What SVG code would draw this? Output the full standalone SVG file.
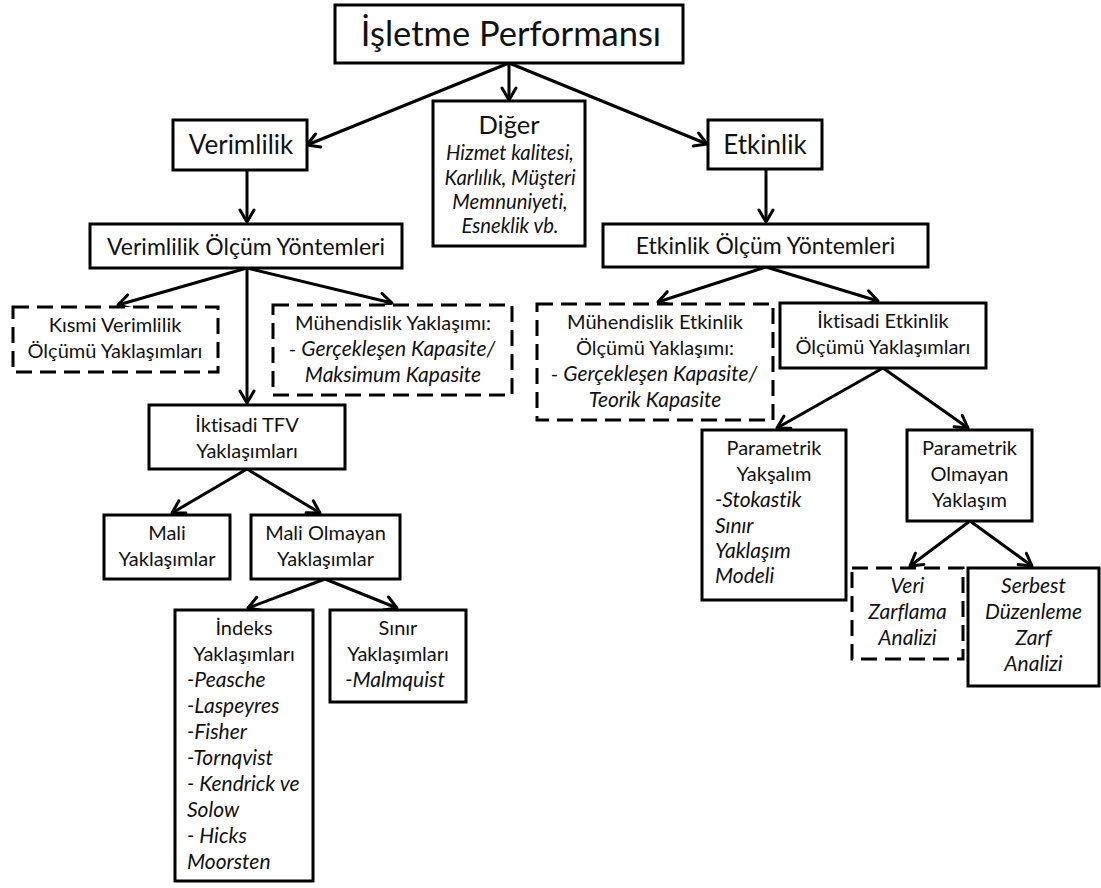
<svg xmlns="http://www.w3.org/2000/svg" width="1101" height="888" viewBox="0 0 1101 888">
  <style>
    .box { fill: #ffffff; stroke: #000000; stroke-width: 3; }
    .dash { fill: #ffffff; stroke: #000000; stroke-width: 3; stroke-dasharray: 16 8; }
    text { font-family: Lato, "Open Sans", "DejaVu Sans", sans-serif; fill: #111111; text-anchor: middle; font-variant-ligatures: none; }
    .t34 { font-size: 34.5px; }
    .t26 { font-size: 26px; }
    .t25 { font-size: 25.5px; }
    .t23 { font-size: 23px; }
    .t20 { font-size: 20px; }
    .i21 { font-size: 21px; font-style: italic; }
    .i20 { font-size: 20.3px; font-style: italic; }
    .left { text-anchor: start; }
    .link { fill: none; stroke: #000000; stroke-width: 3; marker-end: url(#head); }
  </style>
  <defs>
    <marker id="head" markerUnits="userSpaceOnUse" markerWidth="18" markerHeight="18" viewBox="-15 -9 18 18" refX="0" refY="0" orient="auto">
      <path d="M-12,-7 L0,0 L-12,7" fill="none" stroke="#000000" stroke-width="3" stroke-linejoin="round" stroke-linecap="round"/>
    </marker>
  </defs>
  <rect width="1101" height="888" fill="#ffffff"/>

  <g id="connectors">
    <line class="link" x1="509" y1="63" x2="307" y2="145"/>
    <line class="link" x1="509" y1="63" x2="509" y2="100"/>
    <line class="link" x1="509" y1="63" x2="707" y2="144"/>
    <line class="link" x1="247" y1="170" x2="247" y2="222"/>
    <line class="link" x1="766" y1="169" x2="766" y2="222"/>
    <line class="link" x1="247" y1="268" x2="118" y2="305"/>
    <line class="link" x1="247" y1="268" x2="247" y2="403"/>
    <line class="link" x1="247" y1="268" x2="392" y2="303"/>
    <line class="link" x1="247" y1="469" x2="172" y2="513"/>
    <line class="link" x1="247" y1="469" x2="320" y2="513"/>
    <line class="link" x1="325" y1="579" x2="248" y2="608"/>
    <line class="link" x1="325" y1="579" x2="397" y2="608"/>
    <line class="link" x1="766" y1="267" x2="658" y2="302"/>
    <line class="link" x1="766" y1="267" x2="878" y2="301"/>
    <line class="link" x1="883" y1="368" x2="777" y2="428"/>
    <line class="link" x1="883" y1="368" x2="968" y2="428"/>
    <line class="link" x1="970" y1="521" x2="910" y2="566"/>
    <line class="link" x1="970" y1="521" x2="1032" y2="566"/>
  </g>

  <g id="isletme-performansi">
    <rect class="box" x="335" y="5" width="348" height="58"/>
    <text class="t34" x="511" y="46">İşletme Performansı</text>
  </g>

  <g id="verimlilik">
    <rect class="box" x="173" y="120" width="134" height="50"/>
    <text class="t26" x="241" y="154">Verimlilik</text>
  </g>

  <g id="diger">
    <rect class="box" x="433" y="101" width="152" height="145"/>
    <text class="t25" x="509" y="134">Diğer</text>
    <text class="i20" x="510" y="160">Hizmet kalitesi,</text>
    <text class="i20" x="510" y="185">Karlılık, Müşteri</text>
    <text class="i20" x="510" y="209">Memnuniyeti,</text>
    <text class="i20" x="510" y="233">Esneklik vb.</text>
  </g>

  <g id="etkinlik">
    <rect class="box" x="708" y="120" width="114" height="49"/>
    <text class="t26" x="765" y="154">Etkinlik</text>
  </g>

  <g id="verimlilik-olcum">
    <rect class="box" x="90" y="224" width="312" height="44"/>
    <text class="t23" x="246" y="255">Verimlilik Ölçüm Yöntemleri</text>
  </g>

  <g id="etkinlik-olcum">
    <rect class="box" x="603" y="224" width="325" height="43"/>
    <text class="t23" x="765.5" y="254">Etkinlik Ölçüm Yöntemleri</text>
  </g>

  <g id="kismi-verimlilik">
    <rect class="dash" x="13" y="307" width="205" height="65"/>
    <text class="t20" x="115" y="332">Kısmi Verimlilik</text>
    <text class="t20" x="115" y="358">Ölçümü Yaklaşımları</text>
  </g>

  <g id="muhendislik-yaklasimi">
    <rect class="dash" x="273" y="305" width="239" height="90"/>
    <text class="t20" x="393" y="330">Mühendislik Yaklaşımı:</text>
    <text class="t20" x="392" y="356">- <tspan font-style="italic" font-size="21px">Gerçekleşen Kapasite/</tspan></text>
    <text class="i21" x="393" y="382">Maksimum Kapasite</text>
  </g>

  <g id="iktisadi-tfv">
    <rect class="box" x="149" y="405" width="196" height="64"/>
    <text class="t20" x="247" y="432">İktisadi TFV</text>
    <text class="t20" x="247" y="458">Yaklaşımları</text>
  </g>

  <g id="mali">
    <rect class="box" x="104" y="515" width="126" height="64"/>
    <text class="t20" x="167" y="540">Mali</text>
    <text class="t20" x="167" y="566">Yaklaşımlar</text>
  </g>

  <g id="mali-olmayan">
    <rect class="box" x="251" y="515" width="149" height="64"/>
    <text class="t20" x="325.5" y="540">Mali Olmayan</text>
    <text class="t20" x="325.5" y="566">Yaklaşımlar</text>
  </g>

  <g id="indeks">
    <rect class="box" x="175" y="610" width="138" height="271"/>
    <text class="t20" x="244" y="635">İndeks</text>
    <text class="t20" x="244" y="661">Yaklaşımları</text>
    <text class="i21 left" x="187" y="687">-Peasche</text>
    <text class="i21 left" x="187" y="713">-Laspeyres</text>
    <text class="i21 left" x="187" y="739">-Fisher</text>
    <text class="i21 left" x="187" y="765">-Tornqvist</text>
    <text class="i21 left" x="187" y="791">- Kendrick ve</text>
    <text class="i21 left" x="187" y="817">Solow</text>
    <text class="i21 left" x="187" y="843">- Hicks</text>
    <text class="i21 left" x="187" y="869">Moorsten</text>
  </g>

  <g id="sinir">
    <rect class="box" x="330" y="610" width="136" height="92"/>
    <text class="t20" x="398" y="635">Sınır</text>
    <text class="t20" x="398" y="661">Yaklaşımları</text>
    <text class="i21" x="395" y="687">-Malmquist</text>
  </g>

  <g id="muhendislik-etkinlik">
    <rect class="dash" x="537" y="304" width="236" height="116"/>
    <text class="t20" x="655" y="329">Mühendislik Etkinlik</text>
    <text class="t20" x="655" y="355">Ölçümü Yaklaşımı:</text>
    <text class="t20" x="654" y="381">- <tspan font-style="italic" font-size="21px">Gerçekleşen Kapasite/</tspan></text>
    <text class="i21" x="655" y="407">Teorik Kapasite</text>
  </g>

  <g id="iktisadi-etkinlik">
    <rect class="box" x="780" y="303" width="206" height="65"/>
    <text class="t20" x="883" y="328">İktisadi Etkinlik</text>
    <text class="t20" x="883" y="354">Ölçümü Yaklaşımları</text>
  </g>

  <g id="parametrik-yaksalim">
    <rect class="box" x="702" y="430" width="144" height="170"/>
    <text class="t20" x="774" y="455">Parametrik</text>
    <text class="t20" x="774" y="481">Yakşalım</text>
    <text class="i21 left" x="715" y="507">-Stokastik</text>
    <text class="i21 left" x="715" y="533">Sınır</text>
    <text class="i21 left" x="715" y="558">Yaklaşım</text>
    <text class="i21 left" x="715" y="583">Modeli</text>
  </g>

  <g id="parametrik-olmayan">
    <rect class="box" x="907" y="430" width="125" height="91"/>
    <text class="t20" x="969.5" y="455">Parametrik</text>
    <text class="t20" x="969.5" y="481">Olmayan</text>
    <text class="t20" x="969.5" y="507">Yaklaşım</text>
  </g>

  <g id="veri-zarflama">
    <rect class="dash" x="852" y="568" width="111" height="91"/>
    <text class="i21" x="907.5" y="593">Veri</text>
    <text class="i21" x="907.5" y="619">Zarflama</text>
    <text class="i21" x="907.5" y="645">Analizi</text>
  </g>

  <g id="serbest-duzenleme">
    <rect class="box" x="968" y="568" width="131" height="118"/>
    <text class="i21" x="1033.5" y="593">Serbest</text>
    <text class="i21" x="1033.5" y="619">Düzenleme</text>
    <text class="i21" x="1033.5" y="645">Zarf</text>
    <text class="i21" x="1033.5" y="671">Analizi</text>
  </g>
</svg>
